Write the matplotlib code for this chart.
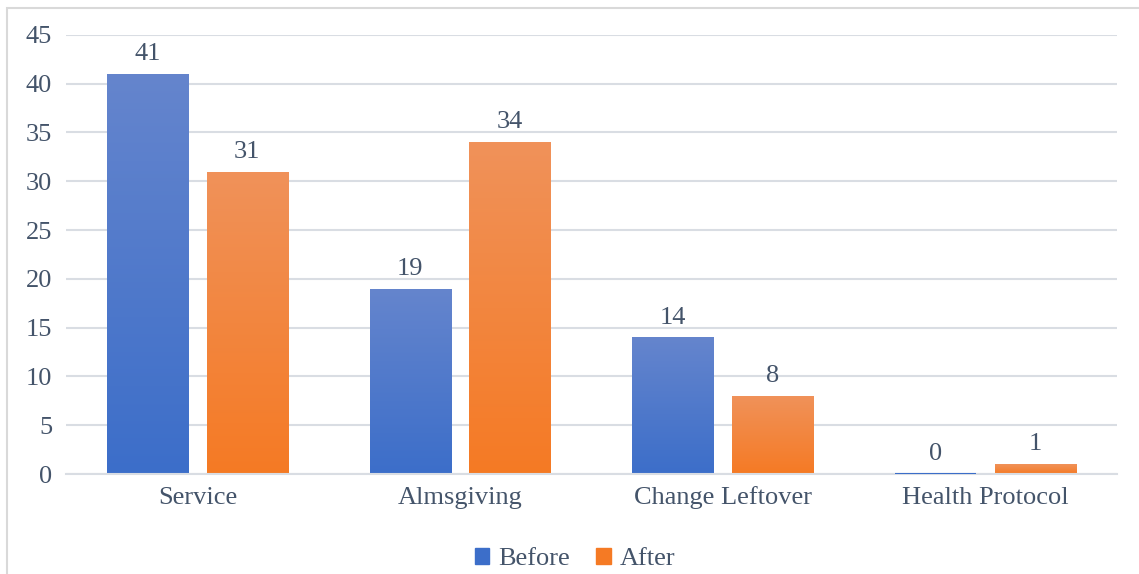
import numpy as np
import matplotlib
matplotlib.use("Agg")
import matplotlib.pyplot as plt
from matplotlib.colors import LinearSegmentedColormap
from matplotlib.patches import Rectangle

categories = ["Service", "Almsgiving", "Change Leftover", "Health Protocol"]
before = [41, 19, 14, 0]
after = [31, 34, 8, 1]
series_names = ["Before", "After"]
y_ticks = [0, 5, 10, 15, 20, 25, 30, 35, 40, 45]

text_color = "#44546A"
grid_color = "#D9DDE3"
blue_top, blue_bottom = "#6585CD", "#3C6EC9"
orange_top, orange_bottom = "#F0925A", "#F57A24"
fs = 19

plt.rcParams["font.family"] = ["Liberation Serif", "DejaVu Serif"]

fig = plt.figure(figsize=(11.39, 5.74), dpi=100)
ax = fig.add_axes([0.058, 0.1742, 0.9227, 0.765])

# light frame around the chart area
fig.patches.append(Rectangle((7 / 1139, -0.1), 1.2, 1 - 8 / 574 + 0.1,
                             transform=fig.transFigure, fill=False,
                             edgecolor="#D9D9D9", linewidth=1.5, zorder=0))

width = 0.31
offset = 0.19
x = np.arange(len(categories))


def gradient_bars(xpos, values, c_top, c_bottom, label):
    bars = ax.bar(xpos, values, width, color=c_bottom, label=label, zorder=2)
    cmap = LinearSegmentedColormap.from_list("g", [c_bottom, c_top])
    grad = np.linspace(0, 1, 256).reshape(-1, 1)
    for b in bars:
        h = b.get_height()
        if h <= 0:
            continue
        x0 = b.get_x()
        im = ax.imshow(grad, cmap=cmap, origin="lower", aspect="auto",
                       extent=[x0, x0 + b.get_width(), 0, h], zorder=2.1)
        im.set_clip_path(b)
    return bars


bars_b = gradient_bars(x - offset, before, blue_top, blue_bottom, series_names[0])
bars_a = gradient_bars(x + offset, after, orange_top, orange_bottom, series_names[1])

# zero-height bar shown as a thin line
for xi, v in zip(x - offset, before):
    if v == 0:
        ax.plot([xi - width / 2, xi + width / 2], [0.05, 0.05], color=blue_bottom,
                linewidth=1.5, zorder=3, solid_capstyle="butt")

for bars, vals in ((bars_b, before), (bars_a, after)):
    for b, v in zip(bars, vals):
        ax.text(b.get_x() + b.get_width() / 2, v + 0.9, f"{v}", ha="center",
                va="bottom", fontsize=fs, color=text_color, zorder=4)

ax.set_xlim(-0.5, len(categories) - 0.5)
ax.set_ylim(0, 45)
ax.set_yticks(y_ticks)
ax.set_xticks(x)
ax.set_xticklabels(categories)
ax.tick_params(axis="both", length=0, labelsize=fs, labelcolor=text_color)
ax.tick_params(axis="y", pad=10)
ax.tick_params(axis="x", pad=9)
ax.yaxis.grid(True, color=grid_color, linewidth=1.5, zorder=0)
ax.set_axisbelow(True)
for s in ["top", "right", "left"]:
    ax.spines[s].set_visible(False)
ax.spines["bottom"].set_color(grid_color)
ax.spines["bottom"].set_linewidth(1.5)

handles = [Rectangle((0, 0), 1, 1, color=blue_bottom),
           Rectangle((0, 0), 1, 1, color=orange_bottom)]
leg = fig.legend(handles, series_names, loc="center", bbox_to_anchor=(0.505, 0.026),
                 ncol=2, frameon=False, fontsize=fs, handlelength=0.55,
                 handleheight=0.55, handletextpad=0.35, columnspacing=1.0)
for t in leg.get_texts():
    t.set_color(text_color)

fig.savefig("out.png", dpi=100)
